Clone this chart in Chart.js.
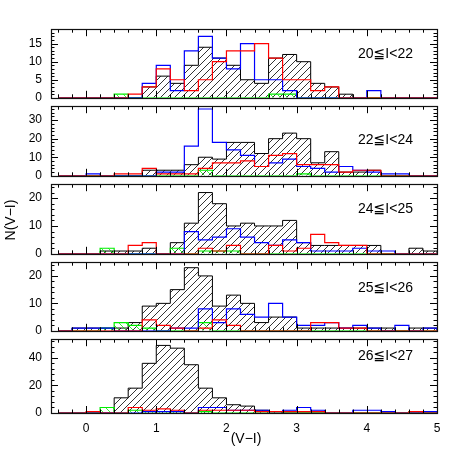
<!DOCTYPE html>
<html>
<head>
<meta charset="utf-8">
<script src="https://cdn.jsdelivr.net/npm/chart.js@4.4.1/dist/chart.umd.min.js"></script>
<style>
html,body{margin:0;padding:0;background:#fff;}
#wrap{position:relative;width:463px;height:463px;overflow:hidden;background:#fff;}
#wrap canvas{position:absolute;left:0;}
.lbl{position:absolute;font-family:'Liberation Sans','DejaVu Sans',sans-serif;font-size:14px;line-height:14px;color:#000;white-space:nowrap;}
</style>
</head>
<body>
<div id="wrap"></div>
<script>
// ---------------- data ----------------
const binEdges = [-0.4,-0.2,0,0.2,0.4,0.6,0.8,1.0,1.2,1.4,1.6,1.8,2.0,2.2,2.4,2.6,2.8,3.0,3.2,3.4,3.6,3.8,4.0,4.2,4.4,4.6,4.8,5.0];
const panelLabels = ['20≦I<22','22≦I<24','24≦I<25','25≦I<26','26≦I<27'];
const xTickValues = [0,1,2,3,4,5];
const yTickValues = [[0,5,10,15],[0,10,20,30],[0,10,20],[0,10,20],[0,20,40]];
const yMaxes = [19, 37.5, 25, 25, 53.5];
const yMinorSteps = [1, 2, 2, 2, 4];

// panel 1: 20<=I<22
const black1 = [0,0,0,0,0,0,3,6,4,9,14,11,9,5,4,11,12,10,4,3,1,0,0,0,0,0,0];
const blue1  = [0,0,0,0,0,0,4,9,2,13,17,11,8,15,5,5,2,0,0,0,0,0,2,0,0,0,0];
const red1   = [0,0,0,0,0,1,3,8,5,2,5,10,13,13,15,11,5,5,2,3,0,0,0,0,0,0,0];
const green1 = [0,0,0,0,1,0,0,0,0,0,0,0,0,0,0,1,1,0,0,0,0,0,0,0,0,0,0];
// panel 2: 22<=I<24
const black2 = [0,0,0,0,0,0,3,3,3,6,10,9,18,18,12,20,23,20,7,13,2,2,3,0,0,0,0];
const blue2  = [0,0,1,0,0,0,0,2,2,16,36,18,14,11,5,7,9,5,4,2,5,3,2,1,1,0,0];
const red2   = [0,0,0,0,1,1,4,1,1,1,4,7,7,8,5,11,12,6,6,6,2,3,3,0,0,0,0];
const green2 = [0,0,0,0,0,0,0,0,0,0,3,0,0,0,0,0,0,1,0,0,0,0,0,0,0,0,0];
// panel 3: 24<=I<25
const black3 = [0,0,0,1,1,1,2,0,4,11,22,18,10,11,10,10,12,4,3,3,3,3,3,0,0,2,1];
const blue3  = [0,0,0,0,0,0,0,0,0,8,5,6,9,6,4,3,5,4,1,1,1,2,1,1,0,0,0];
const red3   = [0,0,0,0,0,3,4,0,0,0,2,1,3,0,0,3,1,2,7,4,3,3,0,0,0,0,0];
const green3 = [0,0,0,2,0,0,0,0,2,0,1,1,1,0,0,0,0,0,0,0,0,0,0,0,0,0,0];
// panel 4: 25<=I<26
const black4 = [0,1,1,1,1,3,9,10,15,23,20,9,13,10,3,5,5,1,1,1,1,1,1,1,0,1,1];
const blue4  = [0,1,1,1,0,0,0,0,1,1,8,3,8,6,5,10,5,2,2,3,1,2,1,0,2,0,1];
const red4   = [0,0,0,0,0,0,4,2,1,0,1,4,2,0,0,0,0,0,3,3,1,1,0,0,0,0,0];
const green4 = [0,0,0,1,3,2,1,0,0,0,3,0,0,0,0,0,0,0,0,0,0,0,0,0,0,0,0];
// panel 5: 26<=I<27
const black5 = [0,0,0,0,11,18,36,49,47,35,18,11,6,5,2,1,0,0,0,0,0,0,0,0,0,0,0];
const blue5  = [0,0,0,0,0,0,1,1,1,0,4,4,2,2,2,1,2,4,2,0,0,2,2,1,0,0,1];
const red5   = [0,0,1,0,0,4,2,3,2,0,2,2,2,2,1,1,1,1,1,0,0,0,0,0,0,1,0];
const green5 = [0,0,0,4,0,2,1,1,1,0,1,0,0,0,0,0,0,0,0,0,0,0,0,0,0,1,0];

const series = [
  {black: black1, blue: blue1, red: red1, green: green1},
  {black: black2, blue: blue2, red: red2, green: green2},
  {black: black3, blue: blue3, red: red3, green: green3},
  {black: black4, blue: blue4, red: red4, green: green4},
  {black: black5, blue: blue5, red: red5, green: green5}
];

// ---------------- layout ----------------
const W = 463;
const panelTops = [25, 102, 180, 258, 335];
const panelBottoms = [102, 180, 258, 335, 413];
const labelCenters = [53, 139, 208, 287, 355];
const FONT = "'Liberation Sans','DejaVu Sans',Arial,sans-serif";
Chart.defaults.font.family = FONT;
Chart.defaults.color = '#000';

function steps(vals) {
  const pts = [{x: binEdges[0], y: 0}];
  vals.forEach((v, i) => pts.push({x: binEdges[i], y: v}));
  const end = binEdges[vals.length];
  pts.push({x: end, y: vals[vals.length - 1]});
  pts.push({x: end, y: 0});
  return pts;
}

function hatch(ctx, color, dir) {
  const s = 7;
  const c = document.createElement('canvas');
  c.width = s; c.height = s;
  const g = c.getContext('2d');
  g.strokeStyle = color; g.lineWidth = 0.8;
  g.beginPath();
  if (dir > 0) {
    g.moveTo(0, s); g.lineTo(s, 0);
    g.moveTo(-1, 1); g.lineTo(1, -1);
    g.moveTo(s - 1, s + 1); g.lineTo(s + 1, s - 1);
  } else {
    g.moveTo(0, 0); g.lineTo(s, s);
    g.moveTo(-1, s - 1); g.lineTo(1, s + 1);
    g.moveTo(s - 1, -1); g.lineTo(s + 1, 1);
  }
  g.stroke();
  return ctx.createPattern(c, 'repeat');
}

const ticksPlugin = {
  id: 'pgticks',
  afterDatasetsDraw(chart, args, o) {
    const {ctx, chartArea: a} = chart;
    const xs = chart.scales.x, ys = chart.scales.y;
    ctx.save();
    ctx.strokeStyle = '#000';
    ctx.lineWidth = 1;
    ctx.beginPath();
    const majL = 7, minL = 3.5;
    let k0 = Math.ceil(xs.min / o.xMinor - 1e-9), k1 = Math.floor(xs.max / o.xMinor + 1e-9);
    for (let k = k0; k <= k1; k++) {
      const v = k * o.xMinor;
      const r = v / o.xMajor;
      const isMaj = Math.abs(r - Math.round(r)) < 1e-6;
      const px = Math.round(xs.getPixelForValue(v)) + 0.5;
      const L = isMaj ? majL : minL;
      ctx.moveTo(px, a.bottom); ctx.lineTo(px, a.bottom - L);
      ctx.moveTo(px, a.top); ctx.lineTo(px, a.top + L);
    }
    k0 = Math.ceil(ys.min / o.yMinor - 1e-9); k1 = Math.floor(ys.max / o.yMinor + 1e-9);
    for (let k = k0; k <= k1; k++) {
      const v = k * o.yMinor;
      const r = v / o.yMajor;
      const isMaj = Math.abs(r - Math.round(r)) < 1e-6;
      const py = Math.round(ys.getPixelForValue(v)) + 0.5;
      const L = isMaj ? majL : minL;
      ctx.moveTo(a.left, py); ctx.lineTo(a.left + L, py);
      ctx.moveTo(a.right, py); ctx.lineTo(a.right - L, py);
    }
    ctx.stroke();
    ctx.lineWidth = 1.2;
    ctx.strokeStyle = '#111';
    ctx.strokeRect(Math.round(a.left) + 0.5, Math.round(a.top) + 0.5, Math.round(a.right - a.left), Math.round(a.bottom - a.top));
    ctx.restore();
  }
};

const wrap = document.getElementById('wrap');

function makePanel(i) {
  const isLast = i === 4;
  const top = panelTops[i] - 12;
  const h = isLast ? (W - top) : (panelBottoms[i] - panelTops[i] + 24);
  const cv = document.createElement('canvas');
  cv.width = W; cv.height = h;
  cv.style.top = top + 'px';
  cv.style.width = W + 'px'; cv.style.height = h + 'px';
  wrap.appendChild(cv);
  const ctx = cv.getContext('2d');
  const s = series[i];
  const base = {pointRadius: 0, stepped: true, tension: 0, fill: false, borderWidth: 1.2};
  new Chart(ctx, {
    type: 'line',
    data: {datasets: [
      Object.assign({}, base, {data: steps(s.red), borderColor: '#ff0000'}),
      Object.assign({}, base, {data: steps(s.blue), borderColor: '#0000ff'}),
      Object.assign({}, base, {data: steps(s.green), borderColor: '#00ee00', fill: 'origin', backgroundColor: hatch(ctx, '#00ee00', -1)}),
      Object.assign({}, base, {data: steps(s.black), borderColor: '#000000', borderWidth: 1, fill: 'origin', backgroundColor: hatch(ctx, '#000000', 1)})
    ]},
    options: {
      responsive: false, animation: false, devicePixelRatio: 1,
      layout: {padding: {left: 5, right: 26, top: 12, bottom: isLast ? 0 : 12}},
      plugins: {legend: {display: false}, tooltip: {enabled: false},
        pgticks: {xMajor: 1, xMinor: 0.2, yMajor: yTickValues[i][1], yMinor: yMinorSteps[i]}},
      scales: {
        x: {type: 'linear', min: -0.5, max: 5, display: isLast,
            grid: {display: false, drawTicks: false}, border: {display: false},
            ticks: {padding: 8, font: {size: 12}, color: '#000'},
            afterBuildTicks: sc => { sc.ticks = xTickValues.map(v => ({value: v})); },
            afterFit: sc => { sc.height = isLast ? 50 : 0; }},
        y: {type: 'linear', min: 0, max: yMaxes[i],
            grid: {display: false, drawTicks: false}, border: {display: false},
            ticks: {padding: 9, font: {size: 12}, color: '#000'},
            afterBuildTicks: sc => { sc.ticks = yTickValues[i].map(v => ({value: v})); },
            afterFit: sc => { sc.width = 46; }}
      }
    },
    plugins: [ticksPlugin]
  });
  const d = document.createElement('div');
  d.className = 'lbl';
  d.textContent = panelLabels[i];
  d.style.right = '50px';
  d.style.top = (labelCenters[i] - 7) + 'px';
  wrap.appendChild(d);
}

for (let i = 0; i < 5; i++) makePanel(i);

const yt = document.createElement('div');
yt.className = 'lbl';
yt.textContent = 'N(V−I)';
yt.style.width = '80px'; yt.style.textAlign = 'center';
yt.style.left = (10 - 40) + 'px'; yt.style.top = (220 - 7) + 'px';
yt.style.transform = 'rotate(-90deg)';
wrap.appendChild(yt);

const xt = document.createElement('div');
xt.className = 'lbl';
xt.textContent = '(V−I)';
xt.style.width = '80px'; xt.style.textAlign = 'center';
xt.style.left = (246 - 40) + 'px'; xt.style.top = (438 - 7) + 'px';
wrap.appendChild(xt);
</script>
</body>
</html>
